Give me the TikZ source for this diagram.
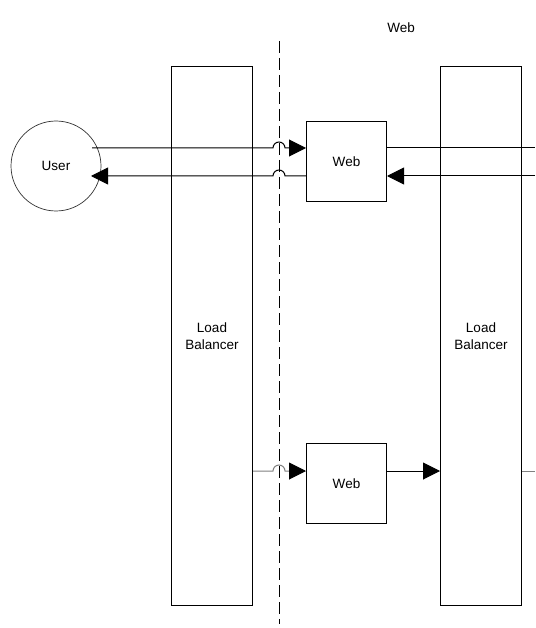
\documentclass[tikz,border=0pt]{standalone}
\usepackage{fontspec}
\setmainfont{Liberation Sans}
\usetikzlibrary{arrows.meta,calc}
\tikzset{
  txt/.style={font=\fontsize{13.5}{16.7}\selectfont},
  box/.style={txt,draw=black,line width=1pt,minimum width=80pt,minimum height=80pt,inner sep=0pt,align=center},
  lbbox/.style={txt,draw=black,line width=1pt,minimum width=81pt,minimum height=538pt,inner sep=0pt,align=center},
  usernode/.style={txt,draw=black!80,line width=0.7pt,circle,minimum size=90pt,inner sep=0pt},
  conn/.style={line width=1pt,black},
  grayconn/.style={line width=1pt,black!50},
  arr/.style={-{Triangle[length=17pt,width=17pt,color=black]}},
  divider/.style={line width=1pt,dash pattern=on 12pt off 5pt},
  lbl/.style={txt}
}
\begin{document}
\begin{tikzpicture}[x=1pt,y=-1pt]
\useasboundingbox (0,0) rectangle (535,628);
% nodes
\node[usernode] (user) at (56,166) {User};
\node[lbbox] (lb1) at (212,336) {Load\\Balancer};
\node[lbbox] (lb2) at (481,336) {Load\\Balancer};
\node[box] (web1) at (346.5,162) {Web};
\node[box] (web2) at (346.5,483.5) {Web};
\node[lbl] (title) at (401,28) {Web};
% divider
\coordinate (dtop) at (279,41);
\coordinate (dbot) at (279,624);
\draw[divider] (dtop) -- (dbot);
% free ends
\coordinate (u1) at (92,148);
\coordinate (u2) at (91,176);
\coordinate (r1) at (535,148);
\coordinate (r2) at (535,176);
\coordinate (r3) at (535,471);
\coordinate (b1) at (lb1.east |- 0,471);
% line 1: user -> web1
\draw[conn,arr] (u1) -- ([xshift=-6pt]dtop |- u1) arc[start angle=180,end angle=360,radius=6] -- (web1.west |- u1);
\draw[conn] (web1.east |- u1) -- (r1);
% line 2: right -> web1 -> user
\draw[conn,arr] (r2) -- (web1.east |- r2);
\draw[conn,arr] (web1.west |- u2) -- ([xshift=6pt]dtop |- u2) arc[start angle=0,end angle=-180,radius=6] -- (u2);
% bottom line
\draw[grayconn,arr] (b1) -- ([xshift=-6pt]dtop |- b1) arc[start angle=180,end angle=360,radius=6] -- (web2.west |- b1);
\draw[conn,arr] (web2.east |- b1) -- (lb2.west |- b1);
\draw[grayconn] (lb2.east |- b1) -- (r3);
\end{tikzpicture}
\end{document}
